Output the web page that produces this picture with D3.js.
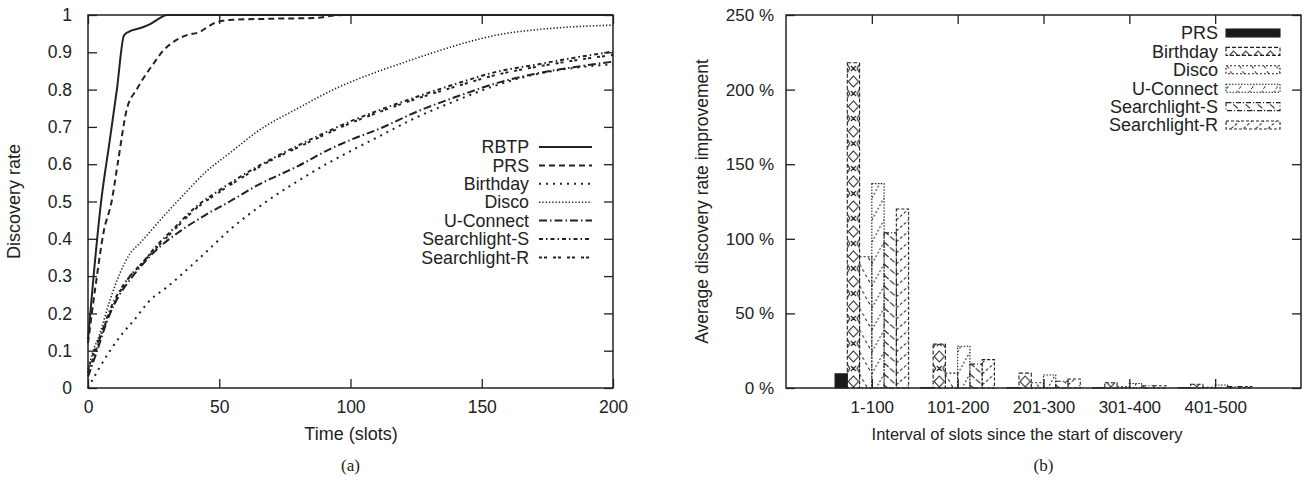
<!DOCTYPE html>
<html>
<head>
<meta charset="utf-8">
<script src="https://cdn.jsdelivr.net/npm/d3@7"></script>
<style>
  body { margin: 0; background: #fff; }
  text { font-family: "Liberation Sans", Arial, sans-serif; fill: #222; }
</style>
</head>
<body>
<div id="chart"></div>
<script>
// ---- data (a): discovery rate vs time (slots) ----
var rbtp = [[0,0.13],[2,0.29],[5,0.5],[8,0.65],[11,0.8],[13.7,0.945],[15.5,0.955],[20,0.965],[24,0.977],[27,0.99],[30,1],[200,1]];
var prs = [[0,0.12],[3,0.28],[6,0.42],[9,0.5],[11.5,0.61],[14.7,0.745],[18.5,0.8],[22,0.84],[25,0.87],[28.7,0.905],[33,0.93],[37.6,0.946],[42.7,0.955],[46,0.97],[49.5,0.982],[55,0.987],[70,0.99],[86,0.992],[97,1],[200,1]];
var birthday = [[0,0],[4,0.05],[8.4,0.1],[13,0.145],[17.3,0.18],[23.6,0.235],[30,0.27],[42,0.345],[55,0.43],[67,0.495],[80,0.555],[92,0.605],[100,0.635],[111,0.675],[125,0.725],[140,0.77],[157,0.815],[170,0.84],[185,0.858],[200,0.868]];
var disco = [[0,0.04],[1,0.075],[4.6,0.147],[8.4,0.236],[12,0.305],[16,0.36],[20,0.39],[25,0.43],[30,0.47],[36,0.515],[45,0.58],[54,0.63],[65,0.69],[80,0.75],[95,0.805],[111,0.85],[120,0.872],[131,0.898],[145,0.928],[157,0.948],[170,0.96],[182,0.967],[200,0.973]];
var uconnect = [[0,0.03],[3,0.09],[8.4,0.2],[12,0.25],[16,0.29],[20,0.325],[26,0.37],[35,0.42],[45,0.465],[54,0.5],[65,0.545],[80,0.595],[92,0.64],[100,0.665],[111,0.695],[125,0.74],[140,0.78],[157,0.82],[170,0.842],[185,0.86],[200,0.875]];
var searchS = [[0,0.04],[3,0.1],[8.4,0.21],[12,0.26],[16,0.3],[20,0.33],[26,0.38],[33,0.43],[41,0.485],[50,0.53],[60,0.575],[67,0.603],[80,0.65],[92,0.69],[100,0.715],[111,0.745],[125,0.78],[140,0.815],[157,0.85],[170,0.866],[185,0.885],[200,0.902]];
var searchR = [[0,0.05],[3,0.11],[8.4,0.2],[12,0.255],[16,0.3],[20,0.33],[26,0.375],[33,0.425],[41,0.48],[50,0.525],[60,0.57],[67,0.6],[80,0.645],[92,0.685],[100,0.71],[111,0.74],[125,0.775],[140,0.808],[157,0.842],[170,0.86],[185,0.878],[200,0.893]];

var lineNames = ["RBTP", "PRS", "Birthday", "Disco", "U-Connect", "Searchlight-S", "Searchlight-R"];
var lineData = [rbtp, prs, birthday, disco, uconnect, searchS, searchR];
var xTicksA = [0, 50, 100, 150, 200];

// ---- data (b): average improvement per interval (%) ----
var intervals = ["1-100", "101-200", "201-300", "301-400", "401-500"];
var barNames = ["PRS", "Birthday", "Disco", "U-Connect", "Searchlight-S", "Searchlight-R"];
var prsImp = [9.5, 0.3, 0.3, 0.2, 0.2];
var birthdayImp = [218, 29.5, 10, 3.5, 2.5];
var discoImp = [88, 10, 3.5, 0.8, 0.5];
var uconnectImp = [137, 28, 8.7, 3, 2];
var searchSImp = [104, 16, 4.5, 1.5, 1];
var searchRImp = [120, 19, 6, 1.5, 1];
var barData = [prsImp, birthdayImp, discoImp, uconnectImp, searchSImp, searchRImp];
var yTicksB = [0, 50, 100, 150, 200, 250];

var ink = "#222";

var svg = d3.select("#chart").append("svg")
  .attr("width", 1308)
  .attr("height", 485);

// ================= chart (a) =================
var xa = d3.scaleLinear().domain([0, 200]).range([88, 613]);
var ya = d3.scaleLinear().domain([0, 1]).range([388, 15]);

var dashes = [null, "6,4", "2,5", "1.3,2", "8,3,1.5,3", "4,3,1.5,3", "3,2,3,6"];
var widths = [2, 2, 2, 1.6, 2, 2, 2];

var ga = svg.append("g");

// lines
var line = d3.line()
  .x(function(d) { return xa(d[0]); })
  .y(function(d) { return ya(d[1]); })
  .curve(d3.curveMonotoneX);

lineData.forEach(function(data, i) {
  ga.append("path")
    .datum(data)
    .attr("fill", "none")
    .attr("stroke", ink)
    .attr("stroke-width", widths[i])
    .attr("stroke-dasharray", dashes[i])
    .attr("d", line);
});

// frame
ga.append("rect")
  .attr("x", xa(0)).attr("y", ya(1))
  .attr("width", xa(200) - xa(0)).attr("height", ya(0) - ya(1))
  .attr("fill", "none").attr("stroke", ink).attr("stroke-width", 1.5);

function styleAxis(g, size) {
  g.select(".domain").remove();
  g.selectAll("line").attr("stroke", ink).attr("stroke-width", 1.3);
  g.selectAll("text").style("font-size", size + "px").attr("fill", ink);
}

// inward ticks, gnuplot style (mirrored)
ga.append("g")
  .attr("transform", "translate(0," + ya(0) + ")")
  .call(d3.axisBottom(xa).tickValues(xTicksA).tickSizeInner(-9).tickSizeOuter(0).tickPadding(13))
  .call(styleAxis, 17.5);
ga.append("g")
  .attr("transform", "translate(0," + ya(1) + ")")
  .call(d3.axisTop(xa).tickValues(xTicksA).tickSizeInner(-9).tickSizeOuter(0).tickFormat(""))
  .call(styleAxis, 17.5);
ga.append("g")
  .attr("transform", "translate(" + xa(0) + ",0)")
  .call(d3.axisLeft(ya).ticks(10).tickFormat(d3.format("~g")).tickSizeInner(-9).tickSizeOuter(0).tickPadding(16))
  .call(styleAxis, 17.5);
ga.append("g")
  .attr("transform", "translate(" + xa(200) + ",0)")
  .call(d3.axisRight(ya).ticks(10).tickSizeInner(-9).tickSizeOuter(0).tickFormat(""))
  .call(styleAxis, 17.5);

// axis titles
ga.append("text")
  .attr("x", 351).attr("y", 440)
  .attr("text-anchor", "middle").style("font-size", "18px")
  .text("Time (slots)");
ga.append("text")
  .attr("transform", "translate(20," + (ya(0) + ya(1)) / 2 + ") rotate(-90)")
  .attr("text-anchor", "middle").style("font-size", "18px")
  .text("Discovery rate");
ga.append("text")
  .attr("x", (xa(0) + xa(200)) / 2).attr("y", 471)
  .attr("text-anchor", "middle")
  .style("font-family", "'Liberation Serif', 'Times New Roman', serif")
  .style("font-size", "17px")
  .text("(a)");

// legend
var legA = ga.append("g");
lineNames.forEach(function(name, i) {
  var yy = 147 + i * 18.4;
  legA.append("text")
    .attr("x", 529).attr("y", yy).attr("dy", "0.35em")
    .attr("text-anchor", "end").style("font-size", "17.8px")
    .text(name);
  legA.append("line")
    .attr("x1", 539).attr("x2", 592).attr("y1", yy).attr("y2", yy)
    .attr("stroke", ink)
    .attr("stroke-width", widths[i])
    .attr("stroke-dasharray", dashes[i]);
});

// ================= chart (b) =================
var xb = d3.scaleLinear().domain([-1, 5]).range([786, 1301]);
var yb = d3.scaleLinear().domain([0, 250]).range([388, 15]);
var bw = xb(1 / 7) - xb(0);

var borderDash = [null, "4,2", "2,2", "1.5,1.5", "5,2,1,2", "3,2"];
var defs = svg.append("defs");

function barLeft(i, j) { return xb(i + (j - 3) / 7); }

// fill patterns
var p1 = defs.append("pattern").attr("id", "pat1").attr("patternUnits", "userSpaceOnUse")
  .attr("x", barLeft(0, 1)).attr("y", 0).attr("width", bw).attr("height", 25);
p1.append("path")
  .attr("d", "M" + bw / 2 + ",1L" + (bw / 2 + 5) + ",6.5L" + bw / 2 + ",12L" + (bw / 2 - 5) + ",6.5Z")
  .attr("fill", "none").attr("stroke", ink).attr("stroke-width", 1.1);
p1.append("path")
  .attr("d", "M" + (bw / 2 - 2.5) + ",16L" + (bw / 2 + 2.5) + ",21M" + (bw / 2 + 2.5) + ",16L" + (bw / 2 - 2.5) + ",21" +
    "M0,14L2.5,18.5L0,23M" + bw + ",14L" + (bw - 2.5) + ",18.5L" + bw + ",23")
  .attr("fill", "none").attr("stroke", ink).attr("stroke-width", 1.1);

var p2 = defs.append("pattern").attr("id", "pat2").attr("patternUnits", "userSpaceOnUse")
  .attr("x", barLeft(0, 2)).attr("y", 0).attr("width", bw).attr("height", 22);
p2.append("line").attr("x1", 0).attr("y1", 0).attr("x2", bw).attr("y2", 22)
  .attr("stroke", ink).attr("stroke-width", 1).attr("stroke-dasharray", "3,3");

var p3 = defs.append("pattern").attr("id", "pat3").attr("patternUnits", "userSpaceOnUse")
  .attr("x", barLeft(0, 3)).attr("y", 0).attr("width", bw).attr("height", 22);
p3.append("line").attr("x1", 0).attr("y1", 22).attr("x2", bw).attr("y2", 0)
  .attr("stroke", ink).attr("stroke-width", 1).attr("stroke-dasharray", "2,2");

var p4 = defs.append("pattern").attr("id", "pat4").attr("patternUnits", "userSpaceOnUse")
  .attr("x", barLeft(0, 4)).attr("y", 0).attr("width", bw).attr("height", 11);
p4.append("line").attr("x1", 0).attr("y1", 0).attr("x2", bw).attr("y2", 11)
  .attr("stroke", ink).attr("stroke-width", 1.1).attr("stroke-dasharray", "6,2");

var p5 = defs.append("pattern").attr("id", "pat5").attr("patternUnits", "userSpaceOnUse")
  .attr("x", barLeft(0, 5)).attr("y", 0).attr("width", bw).attr("height", 11);
p5.append("line").attr("x1", 0).attr("y1", 11).attr("x2", bw).attr("y2", 0)
  .attr("stroke", ink).attr("stroke-width", 1).attr("stroke-dasharray", "3,2");

var fills = ["#1a1a1a", "url(#pat1)", "url(#pat2)", "url(#pat3)", "url(#pat4)", "url(#pat5)"];

var gb = svg.append("g");

// bars
barData.forEach(function(values, j) {
  gb.append("g").selectAll("rect")
    .data(values)
    .join("rect")
    .attr("x", function(d, i) { return barLeft(i, j); })
    .attr("y", function(d) { return yb(d); })
    .attr("width", bw)
    .attr("height", function(d) { return yb(0) - yb(d); })
    .attr("fill", fills[j])
    .attr("stroke", ink)
    .attr("stroke-width", 1.1)
    .attr("stroke-dasharray", borderDash[j]);
});

// frame
gb.append("rect")
  .attr("x", xb(-1)).attr("y", yb(250))
  .attr("width", xb(5) - xb(-1)).attr("height", yb(0) - yb(250))
  .attr("fill", "none").attr("stroke", ink).attr("stroke-width", 1.5);

var catTicks = d3.range(intervals.length);
gb.append("g")
  .attr("transform", "translate(0," + yb(0) + ")")
  .call(d3.axisBottom(xb).tickValues(catTicks).tickFormat(function(d) { return intervals[d]; })
    .tickSizeInner(-9).tickSizeOuter(0).tickPadding(13))
  .call(styleAxis, 17);
gb.append("g")
  .attr("transform", "translate(0," + yb(250) + ")")
  .call(d3.axisTop(xb).tickValues(catTicks).tickSizeInner(-9).tickSizeOuter(0).tickFormat(""))
  .call(styleAxis, 17);
gb.append("g")
  .attr("transform", "translate(" + xb(-1) + ",0)")
  .call(d3.axisLeft(yb).tickValues(yTicksB).tickFormat(function(d) { return d + " %"; })
    .tickSizeInner(-9).tickSizeOuter(0).tickPadding(12))
  .call(styleAxis, 17);
gb.append("g")
  .attr("transform", "translate(" + xb(5) + ",0)")
  .call(d3.axisRight(yb).tickValues(yTicksB).tickSizeInner(-9).tickSizeOuter(0).tickFormat(""))
  .call(styleAxis, 17);

// axis titles
gb.append("text")
  .attr("x", 1027).attr("y", 440)
  .attr("text-anchor", "middle").style("font-size", "16.5px")
  .text("Interval of slots since the start of discovery");
gb.append("text")
  .attr("transform", "translate(708," + (yb(0) + yb(250)) / 2 + ") rotate(-90)")
  .attr("text-anchor", "middle").style("font-size", "17.5px")
  .text("Average discovery rate improvement");
gb.append("text")
  .attr("x", (xb(-1) + xb(5)) / 2).attr("y", 471)
  .attr("text-anchor", "middle")
  .style("font-family", "'Liberation Serif', 'Times New Roman', serif")
  .style("font-size", "17px")
  .text("(b)");

// legend
var legB = gb.append("g");
barNames.forEach(function(name, j) {
  var yy = 33 + j * 18.4;
  legB.append("text")
    .attr("x", 1218).attr("y", yy).attr("dy", "0.35em")
    .attr("text-anchor", "end").style("font-size", "18px")
    .text(name);
  legB.append("rect")
    .attr("x", 1226).attr("y", yy - 4).attr("width", 54).attr("height", 8)
    .attr("fill", fills[j])
    .attr("stroke", ink)
    .attr("stroke-width", 1.1)
    .attr("stroke-dasharray", borderDash[j]);
});
</script>
</body>
</html>
